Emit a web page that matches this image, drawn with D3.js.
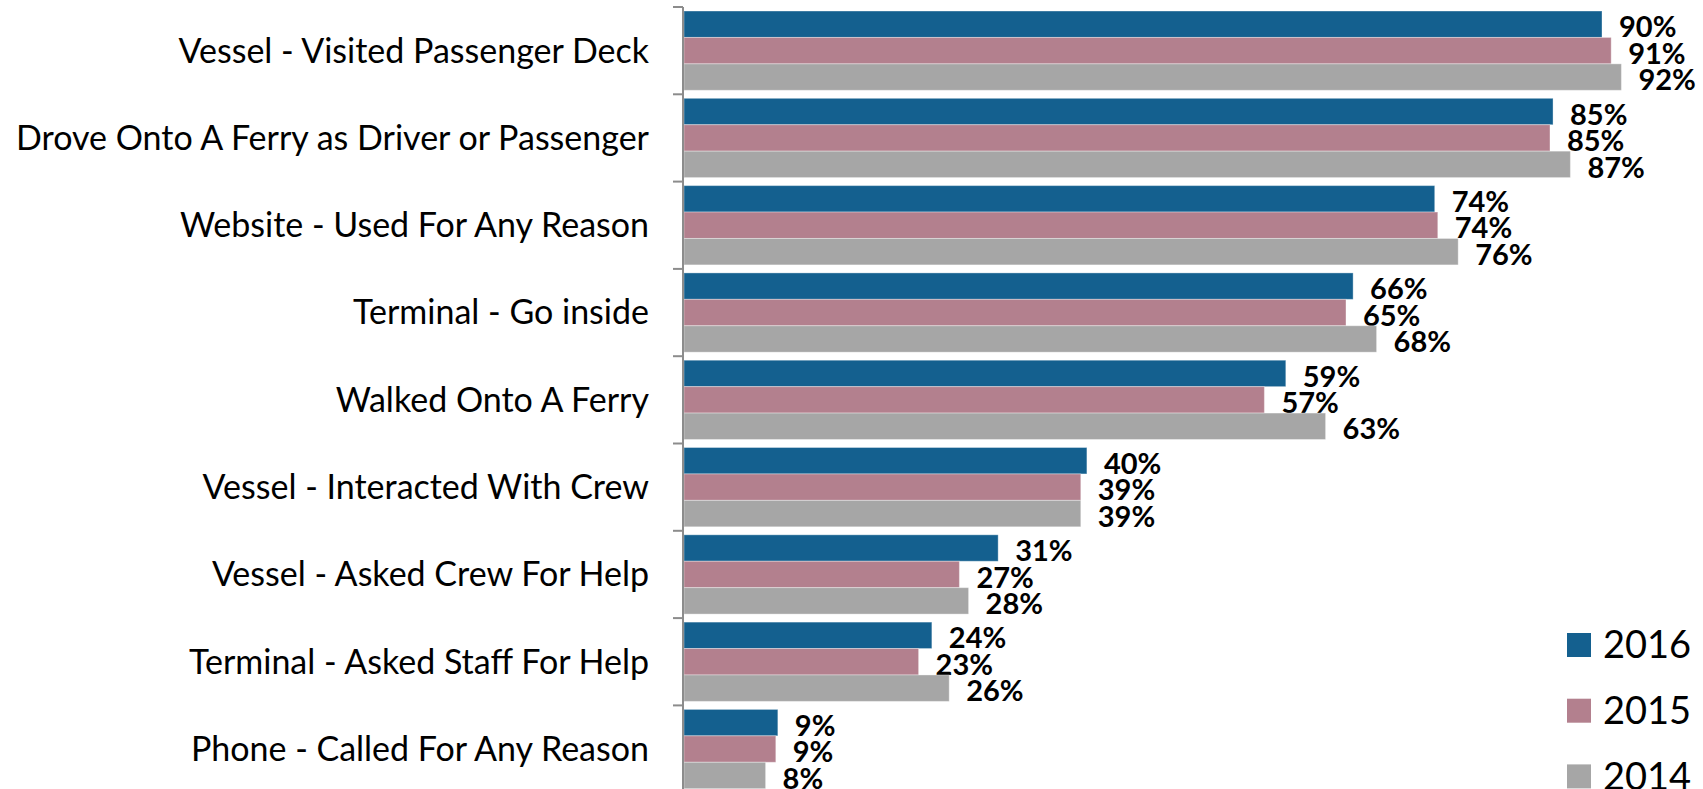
<!doctype html>
<html>
 <head>
  <meta charset='utf-8'>
  <title>Ferry touchpoints</title>
  <style>
    html,
    body{
      margin:0;
      width:100%;
      height:100%;
      background:white;
      overflow:hidden;
    }
    svg{
      display:block;
    }
    text{
      font-family:Lato,'Noto Sans',sans-serif;
      fill:black;
    }
  </style>
 </head>
 <body>
  <svg id='chart'></svg>
  <script src='https://cdn.jsdelivr.net/npm/d3@7'></script>
  <script>

   /*
    * data
    */
   var categories = [
     'Vessel - Visited Passenger Deck',
     'Drove Onto A Ferry as Driver or Passenger',
     'Website - Used For Any Reason',
     'Terminal - Go inside',
     'Walked Onto A Ferry',
     'Vessel - Interacted With Crew',
     'Vessel - Asked Crew For Help',
     'Terminal - Asked Staff For Help',
     'Phone - Called For Any Reason'
   ]
   var seriesNames = ['2016','2015','2014']
   var values2016  = [90.0, 85.2, 73.6, 65.6, 59.0, 39.5, 30.8, 24.3, 9.2]
   var values2015  = [90.9, 84.9, 73.9, 64.9, 56.9, 38.9, 27.0, 23.0, 9.0]
   var values2014  = [91.9, 86.9, 75.9, 67.9, 62.9, 38.9, 27.9, 26.0, 8.0]
   var seriesColors = ['#14608f','#b3808e','#a6a6a6']

   var W = 1703, H = 789

   var svg = d3.select('#chart')
               .attr('width',W)
               .attr('height',H)

   // rows: one per category, with the three years side by side
   var rows = categories.map(function(c,i){
     return {
       name:c,
       vals:[values2016[i],values2015[i],values2014[i]]
     }
   })

   /*
    * scales
    */
   var x = d3.scaleLinear()
             .domain([0,100])
             .range([684,1704])

   var y = d3.scaleBand()
             .domain(categories)
             .range([7,7 + 9*87.3])
             .paddingInner(0.092)
             .paddingOuter(0.046)

   var ySub = d3.scaleBand()
                .domain(seriesNames)
                .range([0,y.bandwidth()])

   var fmt = function(v){ return Math.round(v) + '%' }

   /*
    * bars
    */
   var groups = svg.append('g')
                   .selectAll('g')
                   .data(rows)
                   .join('g')
                   .attr('transform',function(d){
                     return 'translate(0,' + y(d.name) + ')'
                   })

   var cells = groups.selectAll('g')
                     .data(function(d){
                       return d.vals.map(function(v,j){
                         return {key:seriesNames[j],v:v,c:seriesColors[j]}
                       })
                     })
                     .join('g')

   cells.append('rect')
        .attr('x',x(0))
        .attr('y',function(d){ return ySub(d.key) })
        .attr('width',function(d){ return x(d.v) - x(0) })
        .attr('height',ySub.bandwidth())
        .attr('fill',function(d){ return d.c })
        .attr('stroke','rgba(255,255,255,0.35)')
        .attr('stroke-width',1)

   cells.append('text')
        .attr('x',function(d){ return x(d.v) + 17 })
        .attr('y',function(d){ return ySub(d.key) + ySub.bandwidth()/2 + 3 })
        .attr('dy','0.35em')
        .style('font-size','29px')
        .style('font-weight','bold')
        .text(function(d){ return fmt(d.v) })

   /*
    * category axis
    */
   var ax = svg.append('g')
   ax.append('line')
     .attr('x1',x(0) - 1).attr('x2',x(0) - 1)
     .attr('y1',7).attr('y2',H)
     .attr('stroke','#8c8c8c')
     .attr('stroke-width',2)

   ax.selectAll('.tick')
     .data(d3.range(categories.length + 1))
     .join('line')
     .attr('class','tick')
     .attr('x1',x(0) - 11).attr('x2',x(0) - 1)
     .attr('y1',function(i){ return 7 + i*y.step() })
     .attr('y2',function(i){ return 7 + i*y.step() })
     .attr('stroke','#8c8c8c')
     .attr('stroke-width',2)

   ax.selectAll('.cat')
     .data(categories)
     .join('text')
     .attr('class','cat')
     .attr('x',649)
     .attr('y',function(d){ return y(d) + y.bandwidth()/2 })
     .attr('dy','0.35em')
     .attr('text-anchor','end')
     .style('font-size','34px')
     .text(function(d){ return d })

   /*
    * legend
    */
   var legend = svg.append('g')
                   .selectAll('g')
                   .data(seriesNames)
                   .join('g')
                   .attr('transform',function(d,i){
                     return 'translate(1567,' + (633 + i*65.7) + ')'
                   })

   legend.append('rect')
         .attr('width',24)
         .attr('height',24)
         .attr('fill',function(d,i){ return seriesColors[i] })

   legend.append('text')
         .attr('x',36)
         .attr('y',12)
         .attr('dy','0.35em')
         .style('font-size','38px')
         .text(function(d){ return d })
  </script>
 </body>
</html>
